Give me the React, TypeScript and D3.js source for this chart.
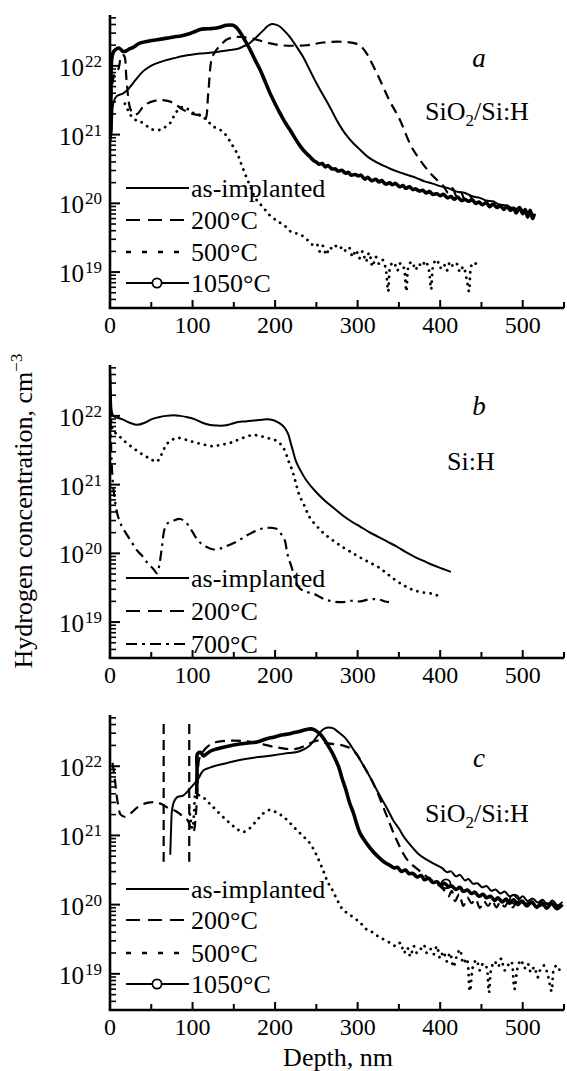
import React from 'react';
import * as d3 from 'd3';

type P = [number, number]; // [depth nm, log10 concentration cm^-3]

const W = 567;
const H = 1071;
const FONT = "'Liberation Serif','Times New Roman',Times,serif";

const xMajorTicks = [0, 100, 200, 300, 400, 500];
const xMinorTicks = [50, 150, 250, 350, 450, 550];
const yDecades = [19, 20, 21, 22];
const X_DOMAIN: [number, number] = [0, 550];
const Y_DOMAIN: [number, number] = [3e18, 5.5e22];

const legendACats = ['as-implanted', '200°C', '500°C', '1050°C'];
const legendBCats = ['as-implanted', '200°C', '700°C'];
const legendCCats = ['as-implanted', '200°C', '500°C', '1050°C'];

// ---------- panel a ----------
const aAsImplanted: P[] = [
  [0.5, 20.9], [2, 21.05], [4, 21.46], [8, 21.56], [16, 21.6], [22, 21.66], [28, 21.75], [34, 21.84], [40, 21.92],
  [48, 21.99], [57, 22.04], [67, 22.08], [77, 22.11], [87, 22.14], [97, 22.16], [109, 22.18], [121, 22.19],
  [133, 22.21], [145, 22.23], [155, 22.25], [161, 22.28], [168, 22.32], [174, 22.38], [180, 22.45], [186, 22.52],
  [191, 22.58], [196, 22.61], [201, 22.6], [206, 22.57], [212, 22.5], [218, 22.42], [226, 22.28], [234, 22.13],
  [242, 21.94], [250, 21.75], [258, 21.58], [266, 21.41], [272, 21.27], [279, 21.12], [287, 20.98], [295, 20.87],
  [303, 20.78], [312, 20.68], [321, 20.61], [331, 20.55], [340, 20.5], [351, 20.45], [361, 20.41], [371, 20.37],
  [381, 20.32], [390, 20.29], [400, 20.25], [410, 20.22], [420, 20.17], [430, 20.15], [440, 20.1], [448, 20.08],
  [456, 20.04], [464, 20.03], [472, 19.98], [480, 19.97], [488, 19.93], [496, 19.92], [504, 19.88], [512, 19.85],
];
const a200: P[] = [
  [1, 21.5], [3, 21.75], [6, 21.9], [10, 21.95], [14, 22.15], [17, 22.15], [20, 21.8], [24, 21.4], [28, 21.3],
  [33, 21.3], [42, 21.43], [57, 21.5], [73, 21.48], [89, 21.36], [100, 21.3], [108, 21.28], [115, 21.22],
  [119, 21.6], [123, 22.09], [127, 22.2], [134, 22.3], [141, 22.38], [151, 22.42], [160, 22.42], [172, 22.4],
  [190, 22.34], [207, 22.3], [238, 22.3], [258, 22.34], [282, 22.35], [299, 22.32], [306, 22.26], [312, 22.16],
  [318, 22.02], [325, 21.85], [338, 21.51], [351, 21.22], [365, 20.83], [378, 20.59], [391, 20.4], [404, 20.25],
  [410, 20.15], [415, 20.22], [420, 20.1], [425, 20.16], [430, 20.05], [435, 20.12], [440, 20.03],
];
const a500: P[] = [
  [18, 21.45], [22, 21.35], [27, 21.25], [33, 21.2], [40, 21.17], [50, 21.08], [61, 21.07], [68, 21.12], [73, 21.17],
  [78, 21.28], [84, 21.38], [90, 21.4], [100, 21.32], [110, 21.28], [118, 21.2], [125, 21.12], [137, 21.04],
  [149, 20.83], [155, 20.7], [160, 20.54], [168, 20.3], [177, 20.06], [185, 19.95], [194, 19.82], [203, 19.74],
  [212, 19.67], [220, 19.58], [230, 19.55], [238, 19.48], [245, 19.4],
  [250, 19.42], [254, 19.3], [258, 19.38], [262, 19.25], [266, 19.36], [270, 19.33], [274, 19.38], [278, 19.34],
  [282, 19.37], [286, 19.3], [290, 19.35], [294, 19.22], [298, 19.32], [302, 19.2], [306, 19.3], [310, 19.15],
  [314, 19.28], [318, 19.08], [322, 19.22], [326, 19.12], [330, 19.18], [334, 19.05], [337, 18.72], [340, 19.1],
  [344, 19.14], [348, 19.02], [352, 19.13], [356, 19.06], [359, 18.72], [362, 19.1], [366, 19.15], [370, 19.03],
  [374, 19.12], [378, 19.08], [382, 19.16], [386, 19.05], [389, 18.75], [392, 19.12], [396, 19.18], [400, 19.06],
  [404, 19.12], [408, 19.02], [412, 19.15], [416, 19.08], [420, 19.12], [424, 19.0], [428, 19.08], [432, 18.9],
  [435, 18.72], [438, 19.1], [442, 19.14], [445, 19.05],
];
const a1050: P[] = [
  [0.5, 21.0], [1.2, 21.6], [2, 22.09], [4, 22.2], [6, 22.23], [10, 22.26], [13, 22.24], [16, 22.21], [20, 22.22],
  [24, 22.25], [28, 22.27], [36, 22.33], [46, 22.36], [57, 22.38], [67, 22.4], [77, 22.42], [87, 22.44], [97, 22.47],
  [103, 22.5], [109, 22.53], [119, 22.54], [129, 22.55], [135, 22.57], [141, 22.59], [149, 22.59], [153, 22.56],
  [157, 22.5], [163, 22.38], [170, 22.23], [176, 22.08], [182, 21.94], [188, 21.77], [194, 21.6], [200, 21.45],
  [206, 21.31], [212, 21.18], [218, 21.07], [224, 20.95], [230, 20.84], [236, 20.75], [242, 20.68], [246, 20.63],
  [250, 20.6], [253, 20.57], [257, 20.58], [261, 20.53], [264, 20.55], [269, 20.5], [273, 20.5], [276, 20.47],
  [281, 20.48], [285, 20.44], [289, 20.45], [292, 20.41], [297, 20.42], [301, 20.4], [304, 20.41], [309, 20.35],
  [312, 20.38], [317, 20.33], [322, 20.35], [326, 20.31], [329, 20.33], [334, 20.28], [339, 20.3], [342, 20.27],
  [346, 20.29], [351, 20.24], [355, 20.26], [358, 20.22], [363, 20.24], [367, 20.2], [370, 20.21], [375, 20.18],
  [379, 20.19], [383, 20.15], [387, 20.17], [391, 20.13], [396, 20.14], [400, 20.11], [404, 20.13], [409, 20.08],
  [413, 20.1], [417, 20.06], [421, 20.09], [426, 20.04], [430, 20.06], [434, 20.03], [439, 20.05], [443, 20.0],
  [447, 20.02], [451, 19.98], [456, 20.01], [460, 19.95], [464, 19.99], [469, 19.94], [473, 19.97], [477, 19.91],
  [481, 19.96], [485, 19.9], [489, 19.93], [492, 19.86], [496, 19.94], [500, 19.85], [503, 19.91], [506, 19.8],
  [509, 19.9], [512, 19.78], [514, 19.85],
];

// ---------- panel b ----------
const bAsImplanted: P[] = [
  [0, 22.7], [1, 22.35], [2, 22.08], [4, 22.0], [10, 21.97], [15, 21.95], [24, 21.9], [33, 21.87], [42, 21.9],
  [50, 21.95], [59, 21.98], [68, 22.0], [77, 22.01], [85, 22.0], [94, 21.98], [103, 21.95], [112, 21.9], [120, 21.87],
  [129, 21.86], [138, 21.86], [146, 21.88], [155, 21.91], [164, 21.92], [172, 21.93], [181, 21.94], [190, 21.95],
  [197, 21.94], [203, 21.91], [208, 21.87], [212, 21.82], [216, 21.73], [219, 21.6], [221, 21.52], [225, 21.35],
  [231, 21.2], [238, 21.06], [249, 20.9], [260, 20.77], [271, 20.66], [282, 20.55], [293, 20.46], [303, 20.39],
  [314, 20.31], [325, 20.24], [336, 20.17], [347, 20.1], [358, 20.02], [369, 19.95], [380, 19.89], [391, 19.83],
  [402, 19.78], [413, 19.73],
];
const b200: P[] = [
  [0, 22.5], [1, 22.05], [2, 21.85], [4, 21.78], [10, 21.72], [15, 21.66], [24, 21.57], [33, 21.49], [42, 21.42],
  [50, 21.37], [55, 21.33], [59, 21.36], [64, 21.48], [68, 21.58], [74, 21.64], [81, 21.68], [90, 21.66], [98, 21.63],
  [111, 21.59], [124, 21.56], [135, 21.58], [146, 21.61], [159, 21.67], [172, 21.72], [181, 21.71], [190, 21.68],
  [197, 21.66], [203, 21.63], [208, 21.57], [212, 21.49], [216, 21.35], [221, 21.2], [225, 21.03], [229, 20.86],
  [236, 20.68], [242, 20.52], [251, 20.39], [260, 20.28], [271, 20.18], [282, 20.09], [293, 20.01], [303, 19.94],
  [314, 19.87], [325, 19.8], [336, 19.7], [347, 19.6], [358, 19.52], [369, 19.46], [380, 19.43], [391, 19.41],
  [396, 19.39],
];
const b700: P[] = [
  [0, 22.6], [0.7, 22.0], [1.5, 21.5], [3, 21.1], [5, 20.85], [9, 20.57], [14, 20.4], [20, 20.28], [27, 20.15],
  [33, 20.04], [40, 19.95], [46, 19.85], [52, 19.78], [57, 19.71], [60, 19.85], [63, 20.1], [66, 20.35], [70, 20.44],
  [76, 20.47], [85, 20.5], [92, 20.45], [99, 20.33], [107, 20.18], [116, 20.1], [124, 20.06], [131, 20.06],
  [138, 20.09], [146, 20.13], [155, 20.18], [164, 20.25], [172, 20.3], [181, 20.35], [190, 20.37], [197, 20.37],
  [203, 20.35], [208, 20.27], [212, 20.18], [214, 20.05], [216, 19.94], [220, 19.8], [225, 19.6], [229, 19.5],
  [238, 19.44], [247, 19.41], [255, 19.36], [260, 19.33], [270, 19.3], [282, 19.29], [292, 19.31], [303, 19.3],
  [314, 19.33], [325, 19.33], [333, 19.3], [338, 19.29],
];

// ---------- panel c ----------
const cAsImplanted: P[] = [
  [73, 20.72], [74, 21.1], [75, 21.35], [77, 21.47], [81, 21.55], [89, 21.58], [97, 21.68], [103, 21.76], [107, 21.82],
  [113, 21.94], [121, 21.98], [129, 22.01], [143, 22.05], [157, 22.09], [172, 22.12], [186, 22.14], [198, 22.16],
  [216, 22.19], [228, 22.21], [236, 22.25], [242, 22.3], [247, 22.37], [252, 22.45], [258, 22.53], [264, 22.56],
  [270, 22.55], [277, 22.49], [284, 22.42], [290, 22.33], [297, 22.2], [303, 22.09], [310, 21.95], [317, 21.8],
  [323, 21.66], [330, 21.51], [337, 21.36], [343, 21.22], [350, 21.1], [356, 20.98], [364, 20.86], [373, 20.74],
  [382, 20.66], [391, 20.6], [402, 20.53], [408, 20.47], [413, 20.48], [419, 20.41], [424, 20.43], [430, 20.35],
  [434, 20.37], [440, 20.3], [445, 20.31], [451, 20.25], [456, 20.27], [462, 20.2], [467, 20.22], [473, 20.16],
  [478, 20.19], [484, 20.12], [489, 20.14], [495, 20.08], [500, 20.12], [506, 20.05], [512, 20.09], [518, 20.03],
  [524, 20.07], [530, 20.0], [536, 20.06], [542, 19.99], [548, 20.04],
];
const c200: P[] = [
  [3, 22.05], [6, 21.8], [9, 21.5], [13, 21.3], [18, 21.27], [25, 21.32], [35, 21.42], [45, 21.47], [55, 21.48],
  [63, 21.45], [70, 21.4], [80, 21.35], [88, 21.28], [94, 21.22], [98, 21.1], [101, 21.05], [104, 21.3], [106, 21.7],
  [108, 22.1], [112, 22.2], [120, 22.3], [129, 22.35], [151, 22.37], [172, 22.35], [199, 22.28], [225, 22.25],
  [242, 22.33], [251, 22.37], [264, 22.33], [282, 22.3], [295, 22.23], [308, 21.99], [321, 21.7], [334, 21.32],
  [347, 20.94], [360, 20.65], [378, 20.46], [386, 20.38], [395, 20.31], [404, 20.22], [410, 20.12], [414, 20.2],
  [418, 20.05], [423, 20.15], [428, 19.98], [433, 20.1], [438, 20.02], [443, 20.08], [448, 19.95], [453, 20.05],
  [458, 19.98], [463, 20.06], [468, 19.96], [473, 20.04], [478, 19.97], [483, 20.05], [488, 19.96], [493, 20.04],
  [500, 20.0], [510, 20.03], [520, 19.98], [530, 20.02], [540, 19.97], [548, 20.0],
];
const c500: P[] = [
  [96, 21.4], [98, 21.2], [100, 21.1], [102, 21.35], [104, 21.6], [108, 21.58], [113, 21.55], [119, 21.48],
  [125, 21.41], [135, 21.29], [145, 21.18], [153, 21.1], [161, 21.05], [169, 21.1], [178, 21.22], [186, 21.32],
  [194, 21.37], [202, 21.33], [210, 21.27], [218, 21.18], [226, 21.08], [234, 20.99], [242, 20.89], [250, 20.72],
  [258, 20.5], [264, 20.32], [269, 20.22], [276, 20.05], [282, 19.93], [292, 19.84], [303, 19.74], [311, 19.64],
  [318, 19.6], [325, 19.54], [336, 19.47], [347, 19.4], [352, 19.45], [356, 19.3], [360, 19.38], [364, 19.25],
  [368, 19.4], [372, 19.3], [376, 19.35], [380, 19.42], [384, 19.3], [388, 19.36], [392, 19.28], [396, 19.4],
  [400, 19.22], [404, 19.32], [408, 19.18], [412, 19.3], [416, 19.1], [420, 19.25], [424, 19.35], [428, 19.15],
  [432, 19.22], [436, 18.75], [440, 19.12], [444, 19.2], [448, 19.05], [452, 19.15], [456, 19.1], [459, 18.73],
  [462, 19.08], [466, 19.18], [470, 19.1], [474, 19.22], [478, 19.05], [482, 19.12], [486, 19.18], [490, 18.78],
  [494, 19.1], [498, 19.2], [502, 19.08], [506, 19.15], [510, 19.02], [514, 19.1], [518, 18.95], [522, 19.08],
  [526, 19.12], [530, 19.0], [535, 18.75], [538, 19.08], [542, 19.12], [546, 19.02], [548, 19.06],
];
const c1050: P[] = [
  [105, 21.6], [105.5, 21.95], [106, 22.18], [110, 22.2], [113, 22.15], [116, 22.17], [122, 22.22], [129, 22.25],
  [143, 22.29], [157, 22.32], [170, 22.34], [178, 22.35], [188, 22.39], [198, 22.42], [208, 22.45], [218, 22.47],
  [228, 22.5], [238, 22.53], [243, 22.54], [247, 22.53], [251, 22.5], [255, 22.46], [260, 22.38], [265, 22.28],
  [269, 22.2], [273, 22.1], [277, 21.99], [281, 21.83], [286, 21.65], [290, 21.48], [295, 21.32], [299, 21.16],
  [303, 21.03], [310, 20.9], [317, 20.79], [325, 20.69], [334, 20.6], [339, 20.57], [344, 20.53], [348, 20.54],
  [353, 20.48], [358, 20.5], [362, 20.45], [367, 20.45], [372, 20.4], [377, 20.42], [381, 20.36], [386, 20.38],
  [391, 20.32], [396, 20.33], [401, 20.28], [405, 20.31], [410, 20.26], [414, 20.27], [419, 20.22], [424, 20.25],
  [428, 20.19], [433, 20.21], [438, 20.16], [442, 20.18], [447, 20.12], [452, 20.15], [456, 20.1], [461, 20.12],
  [466, 20.06], [470, 20.1], [475, 20.04], [480, 20.08], [484, 20.02], [489, 20.07], [494, 20.0], [499, 20.05],
  [505, 19.98], [511, 20.04], [517, 19.96], [523, 20.03], [529, 19.95], [535, 20.02], [541, 19.94], [548, 20.0],
];
const cMarkerDepths = [65, 96];
const cMarkerSpan: [number, number] = [20.62, 22.61];
const cCircles: P[] = [[407, 20.3], [490, 20.08]];

type StyleKey = 'solid' | 'bold' | 'dashed' | 'dotted' | 'dashdot' | 'circle';
const STYLES: Record<StyleKey, { w: number; dash?: string; cap?: 'round' | 'butt' }> = {
  solid: { w: 2 },
  bold: { w: 3.6 },
  dashed: { w: 2.2, dash: '10 6' },
  dotted: { w: 2.8, dash: '0.1 6.5', cap: 'round' },
  dashdot: { w: 2.2, dash: '10 5 2.5 5' },
  circle: { w: 2 },
};
const LEGEND_DASH: Record<StyleKey, string | undefined> = {
  solid: undefined, bold: undefined, dashed: '14 8', dotted: '5 11', dashdot: '11 5 3 5', circle: undefined,
};

interface Panel {
  top: number;
  bottom: number;
  letter: string;
  letterY: number;
  sample: string;
  sampleX: number;
  sampleY: number;
  series: { data: P[]; style: StyleKey }[];
  legend: { label: string; style: StyleKey }[];
  legendRows: number[];
}

const panels: Panel[] = [
  {
    top: 15, bottom: 308, letter: 'a', letterY: 67, sample: 'sio2', sampleX: 425, sampleY: 120,
    series: [
      { data: a500, style: 'dotted' },
      { data: a200, style: 'dashed' },
      { data: aAsImplanted, style: 'solid' },
      { data: a1050, style: 'bold' },
    ],
    legend: [
      { label: legendACats[0], style: 'solid' },
      { label: legendACats[1], style: 'dashed' },
      { label: legendACats[2], style: 'dotted' },
      { label: legendACats[3], style: 'circle' },
    ],
    legendRows: [188, 220, 252, 283],
  },
  {
    top: 365, bottom: 658, letter: 'b', letterY: 415, sample: 'sih', sampleX: 447, sampleY: 470,
    series: [
      { data: b700, style: 'dashdot' },
      { data: b200, style: 'dotted' },
      { data: bAsImplanted, style: 'solid' },
    ],
    legend: [
      { label: legendBCats[0], style: 'solid' },
      { label: legendBCats[1], style: 'dashed' },
      { label: legendBCats[2], style: 'dashdot' },
    ],
    legendRows: [578, 611, 644],
  },
  {
    top: 715, bottom: 1010, letter: 'c', letterY: 767, sample: 'sio2', sampleX: 425, sampleY: 822,
    series: [
      { data: c500, style: 'dotted' },
      { data: c200, style: 'dashed' },
      { data: cAsImplanted, style: 'solid' },
      { data: c1050, style: 'bold' },
    ],
    legend: [
      { label: legendCCats[0], style: 'solid' },
      { label: legendCCats[1], style: 'dashed' },
      { label: legendCCats[2], style: 'dotted' },
      { label: legendCCats[3], style: 'circle' },
    ],
    legendRows: [889, 920, 953, 984],
  },
];

const x = d3.scaleLinear().domain(X_DOMAIN).range([110, 564]);

function minorTicks(): number[] {
  const out: number[] = [];
  for (let e = 18; e <= 22; e++) {
    for (let k = 2; k <= 9; k++) {
      const v = k * Math.pow(10, e);
      if (v >= Y_DOMAIN[0] && v <= Y_DOMAIN[1]) out.push(v);
    }
  }
  return out;
}

function PanelView({ p, idx }: { p: Panel; idx: number }) {
  const y = d3.scaleLog().domain(Y_DOMAIN).range([p.bottom, p.top]);
  const line = d3
    .line<P>()
    .x((d) => x(d[0]))
    .y((d) => y(Math.pow(10, d[1])))
    .curve(d3.curveCatmullRom.alpha(0.5));
  const x0 = x(X_DOMAIN[0]);
  const x1 = x(X_DOMAIN[1]);
  const clipId = `clip${idx}`;
  return (
    <g>
      <defs>
        <clipPath id={clipId}>
          <rect x={x0} y={p.top - 2} width={x1 - x0 + 2} height={p.bottom - p.top + 2} />
        </clipPath>
      </defs>
      {/* axes */}
      <line x1={x0} x2={x0} y1={p.top} y2={p.bottom} stroke="#000" strokeWidth={2.6} />
      <line x1={x0 - 1.3} x2={x1} y1={p.bottom} y2={p.bottom} stroke="#000" strokeWidth={2.6} />
      {xMajorTicks.map((t) => (
        <g key={`xm${t}`}>
          <line x1={x(t)} x2={x(t)} y1={p.bottom} y2={p.bottom - 8} stroke="#000" strokeWidth={2} />
          <text x={x(t)} y={p.bottom + 25} textAnchor="middle" fontSize={24} fontFamily={FONT}>
            {t}
          </text>
        </g>
      ))}
      {xMinorTicks.map((t) => (
        <line key={`xn${t}`} x1={x(t)} x2={x(t)} y1={p.bottom} y2={p.bottom - 6} stroke="#000" strokeWidth={2} />
      ))}
      {minorTicks().map((v) => (
        <line key={`yn${v}`} x1={x0} x2={x0 + 6} y1={y(v)} y2={y(v)} stroke="#000" strokeWidth={1.6} />
      ))}
      {yDecades.map((e) => {
        const yy = y(Math.pow(10, e));
        return (
          <g key={`ym${e}`}>
            <line x1={x0} x2={x0 + 10} y1={yy} y2={yy} stroke="#000" strokeWidth={2} />
            <text x={84} y={yy + 10} textAnchor="end" fontSize={25} fontFamily={FONT}>
              10
            </text>
            <text x={85} y={yy + 1} fontSize={17} fontFamily={FONT}>
              {e}
            </text>
          </g>
        );
      })}
      {/* data */}
      <g clipPath={`url(#${clipId})`}>
        {idx === 2 &&
          cMarkerDepths.map((dd) => (
            <line
              key={`vm${dd}`}
              x1={x(dd)}
              x2={x(dd)}
              y1={y(Math.pow(10, cMarkerSpan[1]))}
              y2={y(Math.pow(10, cMarkerSpan[0]))}
              stroke="#000"
              strokeWidth={2.2}
              strokeDasharray="10 6"
            />
          ))}
        {p.series.map((s, i) => {
          const st = STYLES[s.style];
          return (
            <path
              key={i}
              d={line(s.data) || ''}
              fill="none"
              stroke="#000"
              strokeWidth={st.w}
              strokeDasharray={st.dash}
              strokeLinecap={st.cap || 'butt'}
              strokeLinejoin="round"
            />
          );
        })}
        {idx === 2 &&
          cCircles.map((c, i) => (
            <circle key={`cc${i}`} cx={x(c[0])} cy={y(Math.pow(10, c[1]))} r={4.5} fill="none" stroke="#000" strokeWidth={1.8} />
          ))}
      </g>
      {/* legend */}
      {p.legend.map((l, i) => {
        const ly = p.legendRows[i];
        const st = STYLES[l.style];
        return (
          <g key={`lg${i}`}>
            <line
              x1={126}
              x2={189}
              y1={ly}
              y2={ly}
              stroke="#000"
              strokeWidth={l.style === 'dotted' ? 2.4 : st.w}
              strokeDasharray={LEGEND_DASH[l.style]}
            />
            {l.style === 'circle' && <circle cx={157} cy={ly} r={4.6} fill="#fff" stroke="#000" strokeWidth={1.8} />}
            <text x={191} y={ly + 9} fontSize={26} fontFamily={FONT}>
              {l.label}
            </text>
          </g>
        );
      })}
      {/* annotations */}
      <text x={479} y={p.letterY} textAnchor="middle" fontSize={27} fontStyle="italic" fontFamily={FONT}>
        {p.letter}
      </text>
      {p.sample === 'sio2' ? (
        <text x={p.sampleX} y={p.sampleY} fontSize={26} fontFamily={FONT}>
          SiO
          <tspan fontSize={17} dy={6}>2</tspan>
          <tspan dy={-6}>/Si:H</tspan>
        </text>
      ) : (
        <text x={p.sampleX} y={p.sampleY} fontSize={26} fontFamily={FONT}>
          Si:H
        </text>
      )}
    </g>
  );
}

export default function App() {
  return (
    <svg
      width={W}
      height={H}
      viewBox={`0 0 ${W} ${H}`}
      style={{ position: 'absolute', left: 0, top: 0, background: '#fff' }}
    >
      <rect x={0} y={0} width={W} height={H} fill="#fff" />
      {panels.map((p, i) => (
        <PanelView key={i} p={p} idx={i} />
      ))}
      <text transform="translate(32,511) rotate(-90)" textAnchor="middle" fontSize={26} fontFamily={FONT}>
        Hydrogen concentration, cm
        <tspan fontSize={17} dy={-10}>−3</tspan>
      </text>
      <text x={338} y={1066} textAnchor="middle" fontSize={26} fontFamily={FONT}>
        Depth, nm
      </text>
    </svg>
  );
}
